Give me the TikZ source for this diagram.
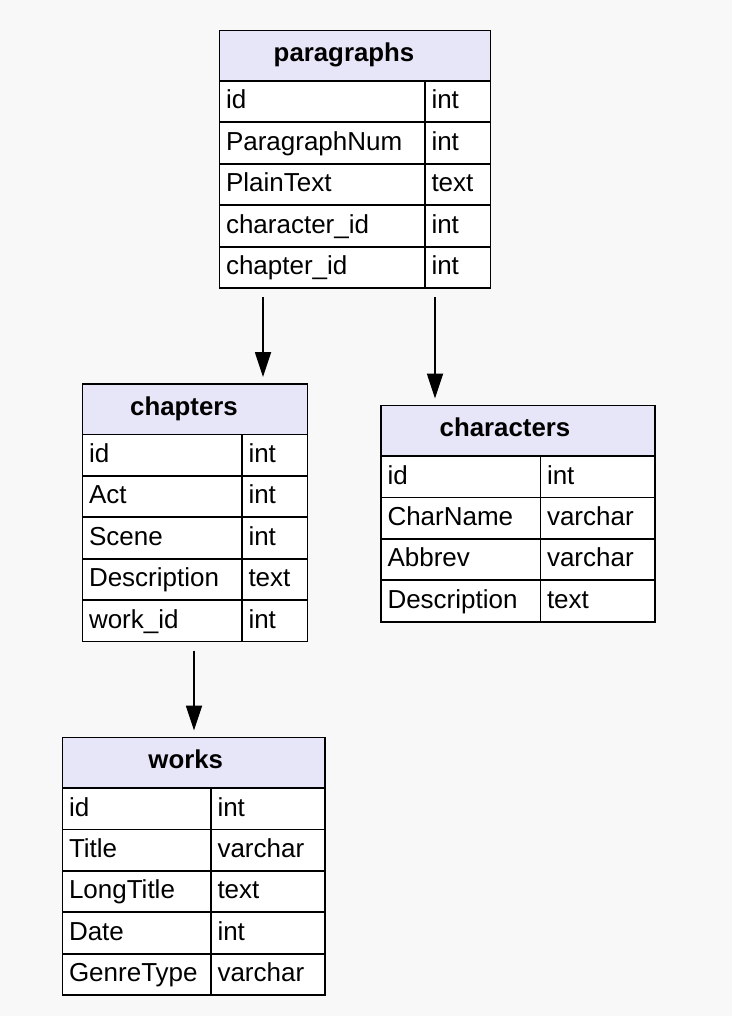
\documentclass[tikz,border=0pt]{standalone}
\usepackage{fontspec}
\setmainfont{Liberation Sans}
\usetikzlibrary{arrows.meta,calc}

\definecolor{pagebg}{HTML}{F8F8F8}
\definecolor{headfill}{HTML}{E6E6F8}

\tikzset{
  tablefont/.style={font=\fontsize{26}{30}\selectfont},
  headcell/.style={draw,line width=1.8pt,fill=headfill,outer sep=0pt,anchor=north west,minimum height=50.5pt},
  tabletitle/.style={font=\bfseries\fontsize{25.8}{30}\selectfont,inner sep=0pt,text height=19pt,text depth=7.5pt},
  fieldcell/.style={draw,line width=1.8pt,fill=white,outer sep=0pt,anchor=north west,
    minimum height=41.4pt,inner xsep=6.5pt,inner ysep=0pt,text height=19pt,text depth=4.4pt,align=left,tablefont},
  fk/.style={line width=1.8pt,-{Triangle[length=25pt,width=16pt]},shorten <=9pt,shorten >=7pt}
}

\begin{document}
\begin{tikzpicture}[x=1pt,y=-1pt]
  \fill[pagebg] (0,0) rectangle (732,1016);
  \useasboundingbox (0,0) rectangle (732,1016);

  % paragraphs
  \node[headcell,minimum width=271pt] (paragraphs) at (219.5,30.5) {};
  \node[tabletitle] (paragraphs-title) at ($(paragraphs.center)+(-11,0)$) {paragraphs};
  \foreach \f/\t [count=\i] in {id/int,ParagraphNum/int,PlainText/text,character\_id/int,chapter\_id/int} {
    \node[fieldcell,text width=192.5pt] (paragraphs-f\i) at (219.5,81+41.4*\i-41.4) {\f};
    \node[fieldcell,text width=52.5pt] (paragraphs-t\i) at (paragraphs-f\i.north east) {\t};
  }

  % chapters
  \node[headcell,minimum width=225pt] (chapters) at (82.5,384) {};
  \node[tabletitle] (chapters-title) at ($(chapters.center)+(-11,0)$) {chapters};
  \foreach \f/\t [count=\i] in {id/int,Act/int,Scene/int,Description/text,work\_id/int} {
    \node[fieldcell,text width=146.5pt] (chapters-f\i) at (82.5,434.5+41.4*\i-41.4) {\f};
    \node[fieldcell,text width=52.5pt] (chapters-t\i) at (chapters-f\i.north east) {\t};
  }

  % characters
  \node[headcell,minimum width=274pt] (characters) at (381,405.5) {};
  \node[tabletitle] (characters-title) at ($(characters.center)+(-13,0)$) {characters};
  \foreach \f/\t [count=\i] in {id/int,CharName/varchar,Abbrev/varchar,Description/text} {
    \node[fieldcell,text width=146.5pt] (characters-f\i) at (381,456+41.4*\i-41.4) {\f};
    \node[fieldcell,text width=101.5pt] (characters-t\i) at (characters-f\i.north east) {\t};
  }

  % works
  \node[headcell,minimum width=262.5pt] (works) at (62.5,737.5) {};
  \node[tabletitle] (works-title) at ($(works.center)+(-8,0)$) {works};
  \foreach \f/\t [count=\i] in {id/int,Title/varchar,LongTitle/text,Date/int,GenreType/varchar} {
    \node[fieldcell,text width=135.5pt] (works-f\i) at (62.5,788+41.4*\i-41.4) {\f};
    \node[fieldcell,text width=101pt] (works-t\i) at (works-f\i.north east) {\t};
  }

  % foreign keys
  \coordinate (to-chapters) at (263,0);
  \coordinate (to-characters) at (435,0);
  \coordinate (to-works) at (194,0);
  \draw[fk] (paragraphs-f5.south -| to-chapters) -- (chapters.north -| to-chapters);
  \draw[fk] (paragraphs-t5.south -| to-characters) -- (characters.north -| to-characters);
  \draw[fk] (chapters-f5.south -| to-works) -- (works.north -| to-works);
\end{tikzpicture}
\end{document}
